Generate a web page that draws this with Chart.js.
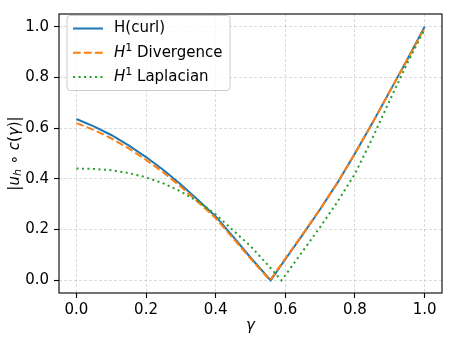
<!DOCTYPE html>
<html>
<head>
<meta charset="utf-8">
<script src="https://cdn.jsdelivr.net/npm/chart.js@4"></script>
<style>
  html, body { margin: 0; padding: 0; background: #fff; }
  canvas { display: block; }
</style>
</head>
<body>
<canvas id="chart" width="449" height="342"></canvas>
<script>
// values
const curlGamma = [0, 0.05, 0.1, 0.15, 0.2, 0.25, 0.3, 0.35, 0.4, 0.45, 0.5, 0.558, 0.6, 0.65, 0.7, 0.75, 0.8, 0.85, 0.9, 0.95, 1.0];
const curlValues = [0.636, 0.607, 0.573, 0.532, 0.486, 0.435, 0.378, 0.316, 0.252, 0.172, 0.09, 0, 0.083, 0.18, 0.28, 0.385, 0.5, 0.62, 0.745, 0.87, 1.0];

const divGamma = [0, 0.05, 0.1, 0.15, 0.2, 0.25, 0.3, 0.35, 0.4, 0.45, 0.5, 0.556, 0.6, 0.65, 0.7, 0.75, 0.8, 0.85, 0.9, 0.95, 1.0];
const divValues = [0.62, 0.593, 0.56, 0.52, 0.475, 0.425, 0.369, 0.308, 0.245, 0.166, 0.086, 0, 0.086, 0.182, 0.281, 0.386, 0.5, 0.62, 0.745, 0.87, 0.995];

const lapGamma = [0, 0.05, 0.1, 0.15, 0.2, 0.25, 0.3, 0.35, 0.4, 0.45, 0.5, 0.55, 0.589, 0.6, 0.65, 0.7, 0.75, 0.8, 0.85, 0.9, 0.95, 1.0];
const lapValues = [0.441, 0.439, 0.434, 0.423, 0.406, 0.382, 0.35, 0.31, 0.26, 0.197, 0.135, 0.06, 0, 0.02, 0.115, 0.21, 0.31, 0.42, 0.56, 0.71, 0.855, 0.99];

const xTicks = [0, 0.2, 0.4, 0.6, 0.8, 1.0];
const yTicks = [0, 0.2, 0.4, 0.6, 0.8, 1.0];

const FONT = "'DejaVu Sans', sans-serif";
const FS = 15;

function toPoints(xs, ys) {
  return xs.map((x, i) => ({ x: x, y: ys[i] }));
}

function setFont(ctx, p, size) {
  ctx.font = (p.italic ? "oblique " : "") + Math.round(size * (p.scale || 1)) + "px " + FONT;
}

// draw a run of text pieces (some italic / sub / sup) centred on x
function drawRich(ctx, parts, x, y, size) {
  let widths = parts.map((p) => {
    setFont(ctx, p, size);
    return ctx.measureText(p.t).width;
  });
  let total = widths.reduce((a, b) => a + b, 0);
  let cx = x - total / 2;
  parts.forEach((p, i) => {
    setFont(ctx, p, size);
    ctx.fillText(p.t, cx, y + (p.dy || 0));
    cx += widths[i];
  });
}

function drawRichLeft(ctx, parts, x, y, size) {
  let cx = x;
  parts.forEach((p) => {
    setFont(ctx, p, size);
    ctx.fillText(p.t, cx, y + (p.dy || 0));
    cx += ctx.measureText(p.t).width;
  });
}

const legendItems = [
  { color: "#1f77b4", dash: [], parts: [{ t: "H(curl)" }] },
  { color: "#ff7f0e", dash: [7.7, 3.3], parts: [{ t: "H", italic: true }, { t: "1", scale: 0.7, dy: -5 }, { t: " Divergence" }] },
  { color: "#2ca02c", dash: [2.1, 3.4], parts: [{ t: "H", italic: true }, { t: "1", scale: 0.7, dy: -5 }, { t: " Laplacian" }] },
];

const decorations = {
  id: "decorations",
  afterDatasetsDraw(chart) {
    const ctx = chart.ctx;
    const a = chart.chartArea;
    ctx.save();
    // frame
    ctx.strokeStyle = "#000";
    ctx.lineWidth = 1.1;
    ctx.setLineDash([]);
    ctx.strokeRect(a.left, a.top, a.right - a.left, a.bottom - a.top);

    // legend box
    const bx = 67, by = 15.5, bw = 163, bh = 75, r = 3;
    ctx.beginPath();
    ctx.moveTo(bx + r, by);
    ctx.arcTo(bx + bw, by, bx + bw, by + bh, r);
    ctx.arcTo(bx + bw, by + bh, bx, by + bh, r);
    ctx.arcTo(bx, by + bh, bx, by, r);
    ctx.arcTo(bx, by, bx + bw, by, r);
    ctx.closePath();
    ctx.fillStyle = "rgba(255,255,255,0.8)";
    ctx.fill();
    ctx.strokeStyle = "#cccccc";
    ctx.lineWidth = 1;
    ctx.stroke();

    ctx.textBaseline = "middle";
    ctx.textAlign = "left";
    ctx.fillStyle = "#000";
    legendItems.forEach((it, i) => {
      const yy = 28.5 + i * 24.2;
      ctx.beginPath();
      ctx.setLineDash(it.dash);
      ctx.strokeStyle = it.color;
      ctx.lineWidth = 2;
      ctx.moveTo(73, yy);
      ctx.lineTo(103, yy);
      ctx.stroke();
      ctx.setLineDash([]);
      drawRichLeft(ctx, it.parts, 114, yy, FS);
    });

    // axis titles
    drawRich(ctx, [{ t: "\u03b3", italic: true }], (a.left + a.right) / 2, 326, FS);

    ctx.translate(15, (a.top + a.bottom) / 2);
    ctx.rotate(-Math.PI / 2);
    drawRich(ctx, [
      { t: "|" },
      { t: "u", italic: true },
      { t: "h", italic: true, scale: 0.7, dy: 3 },
      { t: " \u2218 " },
      { t: "c", italic: true },
      { t: "(" },
      { t: "\u03b3", italic: true },
      { t: ")|" },
    ], 0, 0, FS);
    ctx.restore();
  },
};

const gridStyle = {
  color: "rgba(176,176,176,0.45)",
  lineWidth: 1,
  tickColor: "#000",
  tickLength: 5,
  tickWidth: 1.1,
  drawTicks: true,
};

new Chart(document.getElementById("chart").getContext("2d"), {
  type: "line",
  data: {
    datasets: [
      {
        label: "H(curl)",
        data: toPoints(curlGamma, curlValues),
        borderColor: "#1f77b4",
        borderWidth: 2,
        order: 2,
      },
      {
        label: "H1 Divergence",
        data: toPoints(divGamma, divValues),
        borderColor: "#ff7f0e",
        borderWidth: 2,
        borderDash: [7.7, 3.3],
        order: 1,
      },
      {
        label: "H1 Laplacian",
        data: toPoints(lapGamma, lapValues),
        borderColor: "#2ca02c",
        borderWidth: 2,
        borderDash: [2.1, 3.4],
        order: 0,
      },
    ],
  },
  options: {
    responsive: false,
    animation: false,
    devicePixelRatio: 1,
    elements: { point: { radius: 0 }, line: { tension: 0, borderCapStyle: "butt" } },
    layout: { padding: { top: 7, right: 7, left: 0, bottom: 0 } },
    plugins: { legend: { display: false }, tooltip: { enabled: false } },
    scales: {
      x: {
        type: "linear",
        min: -0.05,
        max: 1.05,
        grid: { ...gridStyle },
        border: { display: false, dash: [3, 2] },
        ticks: {
          color: "#000",
          font: { family: FONT, size: FS },
          padding: 3,
          maxRotation: 0,
          callback: (v) => v.toFixed(1),
        },
        afterBuildTicks: (s) => { s.ticks = xTicks.map((v) => ({ value: v })); },
        afterFit: (s) => { s.height = 49; },
      },
      y: {
        type: "linear",
        min: -0.05,
        max: 1.05,
        grid: { ...gridStyle },
        border: { display: false, dash: [3, 2] },
        ticks: {
          color: "#000",
          font: { family: FONT, size: FS },
          padding: 5,
          callback: (v) => v.toFixed(1),
        },
        afterBuildTicks: (s) => { s.ticks = yTicks.map((v) => ({ value: v })); },
        afterFit: (s) => { s.width = 59; },
      },
    },
  },
  plugins: [decorations],
});
</script>
</body>
</html>
